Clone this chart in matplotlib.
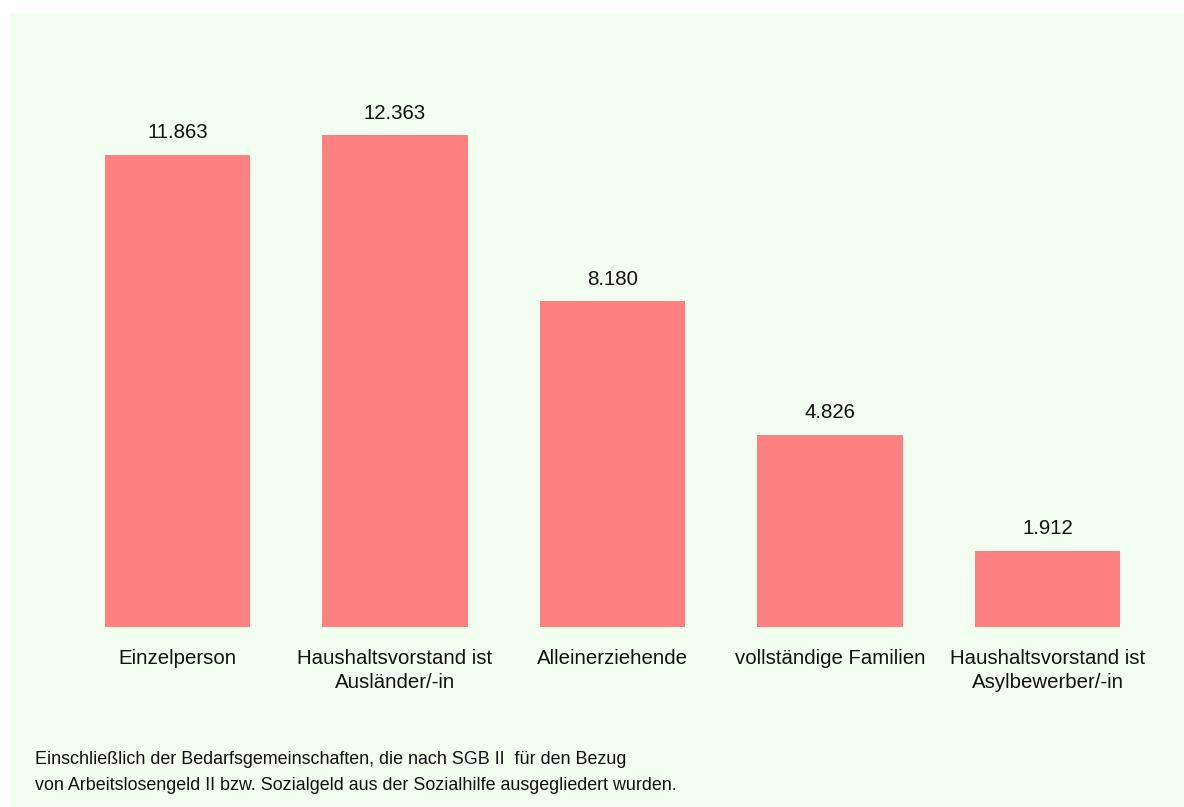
import matplotlib.pyplot as plt
from matplotlib.patches import Rectangle

plt.rcParams['font.family'] = ['Liberation Sans', 'DejaVu Sans']

categories = ["Einzelperson", "Haushaltsvorstand ist\nAusländer/-in", "Alleinerziehende",
              "vollständige Familien", "Haushaltsvorstand ist\nAsylbewerber/-in"]
values = [11863, 12363, 8180, 4826, 1912]
value_labels = ["11.863", "12.363", "8.180", "4.826", "1.912"]
footnote_lines = ["Einschließlich der Bedarfsgemeinschaften, die nach SGB II  für den Bezug",
                  "von Arbeitslosengeld II bzw. Sozialgeld aus der Sozialhilfe ausgegliedert wurden."]

W, H = 1184, 807
fig = plt.figure(figsize=(W / 100, H / 100), dpi=100)
fig.patch.set_facecolor("white")

# light green panel behind everything
fig.patches.append(Rectangle((10 / W, 0), 1 - 10 / W, 1 - 13 / H, transform=fig.transFigure,
                             facecolor="#F2FFF0", edgecolor="none", zorder=-10))

# axes placed in pixel terms: x from 68.75 to 1156.25, y zero at 627 px from top
left, right = 68.75, 1156.25
bottom_px, top_px = 627, 40
ax = fig.add_axes([left / W, (H - bottom_px) / H, (right - left) / W, (bottom_px - top_px) / H])
ax.set_facecolor("none")
ax.set_zorder(1)

x = range(len(values))
bars = ax.bar(x, values, width=0.67, color="#FF8080", edgecolor="none")
ax.set_xlim(-0.5, len(values) - 0.5)
ax.set_ylim(0, 12363 * (bottom_px - top_px) / (627 - 135))

for rect, lab in zip(bars, value_labels):
    ax.annotate(lab, (rect.get_x() + rect.get_width() / 2, rect.get_height()),
                xytext=(0, 9), textcoords="offset points", ha="center", va="bottom",
                fontsize=14.7, color="#111111")

ax.set_xticks(list(x))
ax.set_xticklabels(categories, fontsize=14.7, color="#111111", linespacing=1.3)
ax.tick_params(axis="x", length=0, pad=16)
ax.set_yticks([])
for s in ax.spines.values():
    s.set_visible(False)

fig.text(35 / W, 1 - 760 / H, footnote_lines[0], fontsize=12.9, color="#111111", va="center", zorder=2)
fig.text(35 / W, 1 - 785 / H, footnote_lines[1], fontsize=12.9, color="#111111", va="center", zorder=2)

fig.savefig("out.png", dpi=100)
